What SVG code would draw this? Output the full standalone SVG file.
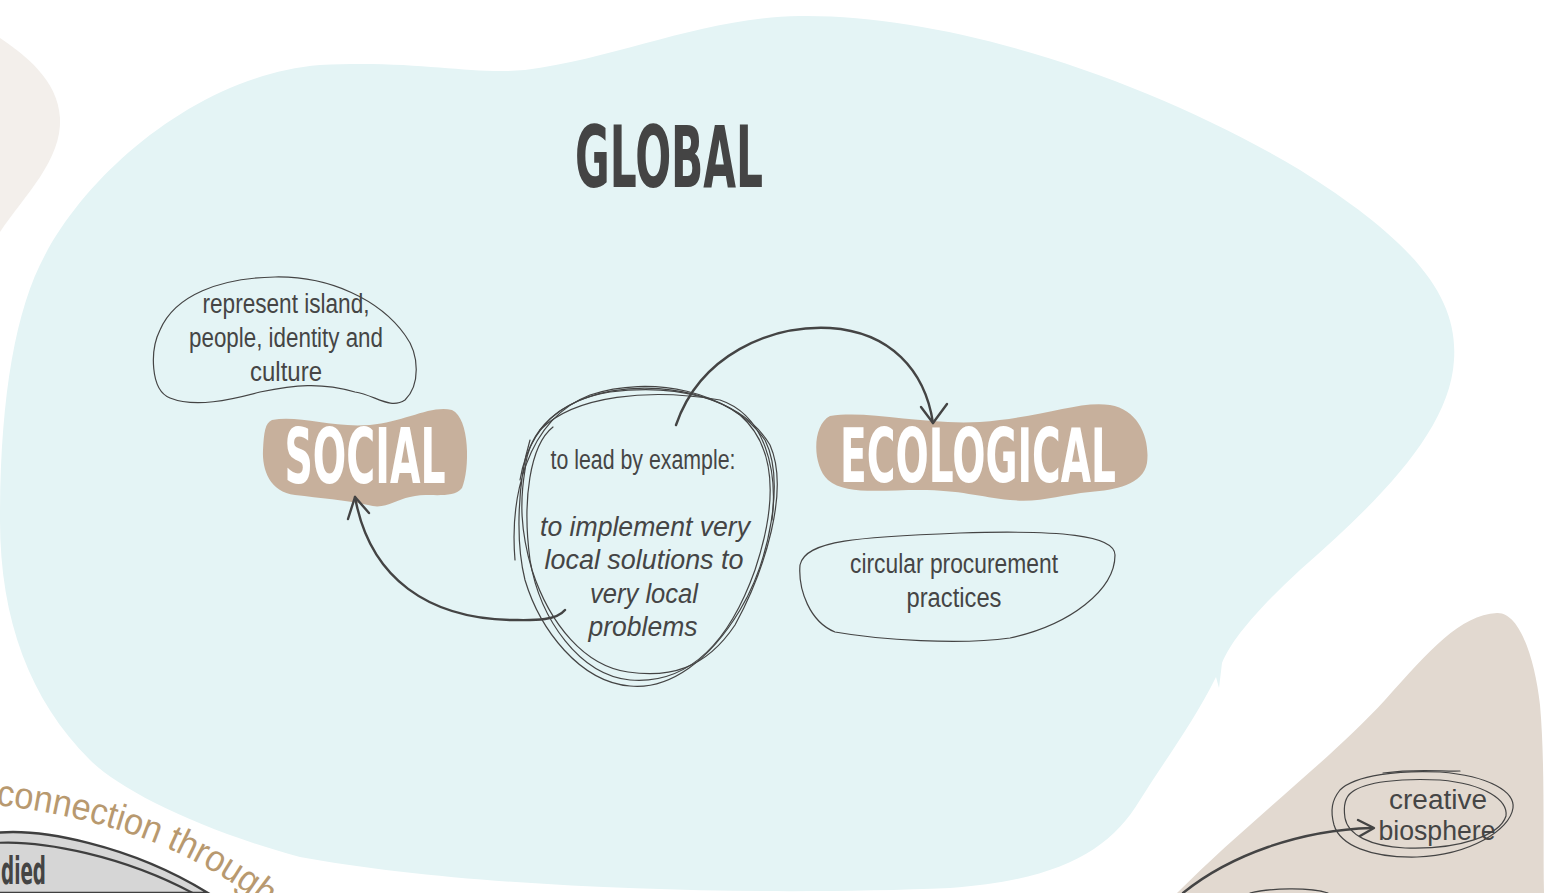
<svg xmlns="http://www.w3.org/2000/svg" width="1564" height="893" viewBox="0 0 1564 893">
<defs>
<style>
.bg{stroke:none}
.sk{fill:none;stroke:#444;stroke-width:1.2;stroke-linecap:round}
.con{fill:none;stroke:#444;stroke-width:2.4;stroke-linecap:round;stroke-linejoin:round}
.hand{font-family:"Liberation Sans Narrow","Liberation Sans",Roboto,sans-serif;fill:#454545;font-size:27px;text-anchor:middle}
.head{font-family:"Liberation Sans Narrow","DejaVu Sans","Liberation Sans",sans-serif;font-weight:bold;text-anchor:middle}
.tag{fill:#C7B09C;stroke:none}
</style>
</defs>
<rect width="1564" height="893" fill="#ffffff"/>
<g id="backgrounds">
<path class="bg" fill="#F3EFEB" d="M0,38 C25,55 58,80 60,118 C62,160 25,195 0,232 Z"/>
<path class="bg" fill="#E4F4F5" d="M320,65 C420,60 470,75 525,70 C620,58 700,18 800,16 C950,14 1150,80 1300,170 C1420,245 1458,300 1454,360 C1450,430 1380,500 1300,570 C1262,605 1232,638 1222,663 L1219,688 L1216,677 C1195,720 1165,760 1140,800 C1110,850 1060,880 950,888 C760,896 480,890 300,857 C200,830 120,790 90,760 C30,700 0,620 0,520 C0,400 15,310 45,255 C90,170 200,75 320,65 Z"/>
<path class="bg" fill="#E2D9D0" d="M1177,893 C1250,820 1330,760 1385,700 C1430,650 1460,615 1497,613 C1520,612 1535,660 1540,705 C1545,760 1543,840 1544,893 Z"/>
</g>
<g id="global">
<text class="head" x="669" y="187" font-size="86" fill="#444" textLength="188" lengthAdjust="spacingAndGlyphs">GLOBAL</text>
</g>
<g id="node-represent">
<path class="sk" d="M160,330 C175,295 220,278 275,277 C330,276 380,300 405,335 C420,355 420,385 405,400 C390,410 375,395 355,392 C320,382 295,385 260,392 C230,400 195,408 170,398 C150,390 150,350 160,330 Z"/>
<text class="hand" x="286" y="313" textLength="167" lengthAdjust="spacingAndGlyphs">represent island,</text>
<text class="hand" x="286" y="347" textLength="194" lengthAdjust="spacingAndGlyphs">people, identity and</text>
<text class="hand" x="286" y="381" textLength="72" lengthAdjust="spacingAndGlyphs">culture</text>
</g>
<g id="node-social">
<path class="tag" d="M272,420 C300,415 330,428 370,425 C405,422 430,405 452,410 C470,418 470,470 462,488 C452,500 430,492 410,497 C395,500 385,510 368,505 C345,500 320,498 295,495 C270,492 262,470 263,450 C264,432 265,423 272,420 Z"/>
<text class="head" x="365" y="483" font-size="76" fill="#ffffff" textLength="161" lengthAdjust="spacingAndGlyphs">SOCIAL</text>
</g>
<g id="node-ecological">
<path class="tag" d="M830,416 C870,410 920,425 980,422 C1040,418 1080,400 1110,405 C1140,410 1150,440 1147,463 C1143,485 1115,490 1090,492 C1060,495 1040,503 1010,500 C980,497 960,490 920,490 C880,490 845,495 828,480 C812,465 812,425 830,416 Z"/>
<text class="head" x="978" y="482" font-size="75" fill="#ffffff" textLength="276" lengthAdjust="spacingAndGlyphs">ECOLOGICAL</text>
</g>
<g id="node-circular">
<path class="sk" d="M800,565 C805,540 860,537 960,533 C1060,530 1115,535 1115,555 C1115,590 1070,625 1010,638 C960,645 880,640 835,632 C810,622 798,590 800,565 Z"/>
<text class="hand" x="954" y="573" textLength="208" lengthAdjust="spacingAndGlyphs">circular procurement</text>
<text class="hand" x="954" y="607" textLength="95" lengthAdjust="spacingAndGlyphs">practices</text>
</g>
<g id="node-lead">
<path class="sk" d="M553,427 C530,445 522,500 530,560 C540,620 580,675 630,680 C690,685 730,640 755,570 C775,510 780,450 740,415 C700,385 620,378 570,405 C540,420 525,450 520,480"/>
<path class="sk" d="M515,560 C510,500 525,420 590,395 C650,375 730,390 765,440 C785,480 770,560 740,610 C710,660 670,690 630,686 C580,682 540,630 525,580 C515,540 518,480 530,440"/>
<path class="sk" d="M525,470 C528,430 560,400 610,392 C670,384 740,395 770,445 C790,490 765,570 735,625 C705,670 668,678 628,672 C585,666 550,625 532,570 C520,530 520,500 525,470"/>
<path class="sk" d="M540,430 C575,395 650,388 720,400 C765,415 778,470 772,520"/>
<text class="hand" x="643" y="469" textLength="185" lengthAdjust="spacingAndGlyphs">to lead by example:</text>
<text class="hand" x="645" y="536" font-style="italic" textLength="210" lengthAdjust="spacingAndGlyphs">to implement very</text>
<text class="hand" x="644" y="569" font-style="italic" textLength="199" lengthAdjust="spacingAndGlyphs">local solutions to</text>
<text class="hand" x="644" y="603" font-style="italic" textLength="108" lengthAdjust="spacingAndGlyphs">very local</text>
<text class="hand" x="643" y="636" font-style="italic" textLength="109" lengthAdjust="spacingAndGlyphs">problems</text>
</g>
<g id="node-creative">
<path class="sk" d="M1383,773 C1420,768 1445,772 1460,771"/>
<path class="sk" d="M1340,790 C1355,775 1400,770 1440,772 C1490,776 1515,792 1513,808 C1510,830 1470,855 1417,857 C1370,858 1340,845 1334,825 C1330,810 1332,800 1340,790 Z"/>
<path class="sk" d="M1352,792 C1365,782 1400,778 1440,780 C1485,784 1508,800 1506,816 C1500,835 1460,850 1405,848 C1370,846 1348,835 1345,818 C1343,805 1345,797 1352,792 Z"/>
<text class="hand" x="1438" y="809" font-size="30" textLength="98" lengthAdjust="spacingAndGlyphs">creative</text>
<text class="hand" x="1437" y="840" font-size="30" textLength="117" lengthAdjust="spacingAndGlyphs">biosphere</text>
<path class="sk" d="M1250,893 C1270,888 1310,887 1328,893"/>
</g>
<g id="node-embodied">
<path fill="#D6D6D6" stroke="#3f3f3f" stroke-width="2.4" d="M-5,833 C40,828 130,845 208,893 L-5,893 Z"/>
<path fill="none" stroke="#3f3f3f" stroke-width="2.2" d="M-5,843 C40,840 125,855 200,897"/>
<text class="head" x="1" y="884" font-size="37" fill="#444" style="text-anchor:start" textLength="45" lengthAdjust="spacingAndGlyphs">died</text>
</g>
<g id="label-connection">
<path id="arcPath" fill="none" stroke="none" d="M-4,805 C60,812 120,828 160,845 C200,862 240,885 275,915"/>
<text font-family="'Liberation Sans Narrow','Liberation Sans',sans-serif" font-size="37" fill="#B8996F"><textPath href="#arcPath" startOffset="0" textLength="292" lengthAdjust="spacingAndGlyphs">connection through</textPath></text>
</g>
<g id="connectors">
<path class="con" d="M676,425 C700,355 770,325 830,328 C890,332 925,370 933,423"/>
<path class="con" d="M921,407 L933,423 L947,404"/>
<path class="con" d="M565,610 C555,622 530,620 510,620 C430,618 370,580 355,497"/>
<path class="con" d="M348,519 L355,497 L369,513"/>
<path class="con" d="M1183,893 C1230,855 1300,830 1372,828"/>
<path class="con" d="M1358,820 L1374,828 L1360,836"/>
</g>
</svg>
